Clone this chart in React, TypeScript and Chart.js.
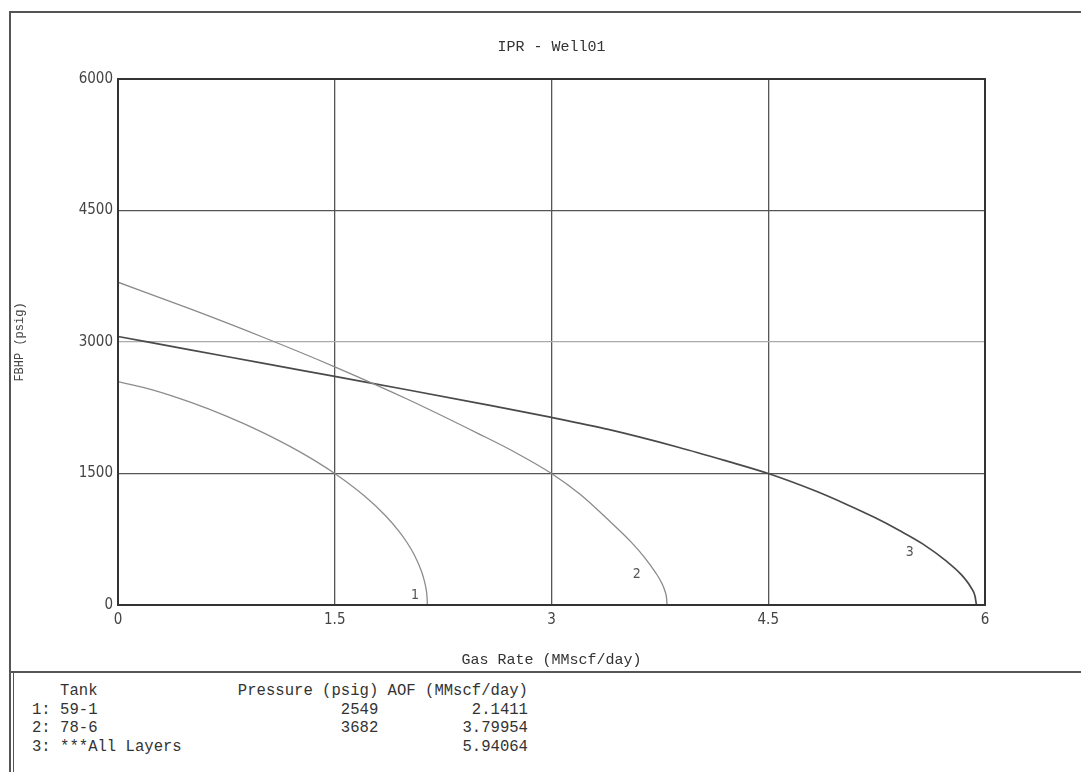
import React, { useEffect, useRef } from "react";
import { Chart, registerables } from "chart.js";

Chart.register(...registerables);

// ---- data ----
const chartTitle = "IPR - Well01";
const xAxisTitle = "Gas Rate (MMscf/day)";
const yAxisTitle = "FBHP (psig)";

const xTicks = [0, 1.5, 3, 4.5, 6];
const yTicks = [0, 1500, 3000, 4500, 6000];

// Curve 1: tank 59-1
const rate1 = [0, 0.25, 0.5, 0.75, 1.0, 1.25, 1.5, 1.7, 1.85, 1.95, 2.0, 2.05, 2.1, 2.12, 2.13, 2.138, 2.1411];
const pres1 = [2549, 2449, 2314, 2155, 1970, 1755, 1500, 1251, 1021, 829, 713, 573, 386, 276, 201, 106, 0];

// Curve 2: tank 78-6
const rate2 = [0, 0.5, 1.0, 1.5, 2.0, 2.5, 2.75, 3.0, 3.2, 3.4, 3.55, 3.65, 3.72, 3.76, 3.785, 3.797, 3.79954];
const pres2 = [3682, 3377, 3057, 2717, 2350, 1950, 1740, 1500, 1260, 960, 720, 530, 370, 260, 160, 70, 0];

// Curve 3: all layers
const rate3 = [0, 0.5, 1.0, 1.5, 2.0, 2.5, 3.0, 3.4, 3.877, 4.197, 4.5, 4.828, 5.039, 5.234, 5.408, 5.566, 5.733, 5.834, 5.903, 5.931, 5.94064];
const pres3 = [3063, 2911, 2759, 2607, 2455, 2300, 2140, 2000, 1800, 1650, 1500, 1300, 1150, 1000, 850, 700, 500, 350, 200, 100, 0];

const curveColors = ["#8c8c8c", "#8a8a8a", "#4a4a4a"];
const curveWidths = [1.3, 1.3, 1.7];

// curve number labels (data coordinates)
const curveLabels = ["1", "2", "3"];
const labelRate = [2.055, 3.59, 5.48];
const labelPres = [114, 353, 603];

// table
const tableHeader = ["Tank", "Pressure (psig)", "AOF (MMscf/day)"];
const tankNames = ["59-1", "78-6", "***All Layers"];
const tankPressure = ["2549", "3682", ""];
const tankAOF = ["2.1411", "3.79954", "5.94064"];

const monoFont = "'Liberation Mono', 'DejaVu Sans Mono', monospace";
const narrowFont = "'DejaVu Sans Condensed', 'Liberation Sans Narrow', 'DejaVu Sans', sans-serif";

function padRight(s: string, n: number) {
  return s + " ".repeat(Math.max(0, n - s.length));
}
function padLeft(s: string, n: number) {
  return " ".repeat(Math.max(0, n - s.length)) + s;
}

function buildTable(): string {
  const lines: string[] = [];
  lines.push(padRight("   " + tableHeader[0], 22) + tableHeader[1] + " " + tableHeader[2]);
  tankNames.forEach((name, i) => {
    const left = padRight(`${i + 1}: ${name}`, 22);
    const p = padLeft(tankPressure[i], 15);
    const a = padLeft(tankAOF[i], 15);
    lines.push(left + p + " " + a);
  });
  return lines.join("\n");
}

const zip = (xs: number[], ys: number[]) => xs.map((x, i) => ({ x, y: ys[i] }));

export default function App() {
  const ref = useRef<HTMLCanvasElement>(null);

  useEffect(() => {
    const frame = {
      id: "frame",
      afterDatasetsDraw(chart: any) {
        const { ctx, chartArea } = chart;
        ctx.save();
        ctx.strokeStyle = "#333";
        ctx.lineWidth = 2;
        ctx.strokeRect(chartArea.left, chartArea.top, chartArea.right - chartArea.left, chartArea.bottom - chartArea.top);
        const xs = chart.scales.x;
        const ys = chart.scales.y;
        ctx.fillStyle = "#555";
        ctx.font = `14px ${narrowFont}`;
        ctx.textAlign = "center";
        ctx.textBaseline = "middle";
        curveLabels.forEach((t, i) => {
          ctx.fillText(t, xs.getPixelForValue(labelRate[i]), ys.getPixelForValue(labelPres[i]));
        });
        ctx.restore();
      },
    };

    const chart = new Chart(ref.current!, {
      type: "scatter",
      data: {
        datasets: [
          { data: zip(rate1, pres1) },
          { data: zip(rate2, pres2) },
          { data: zip(rate3, pres3) },
        ].map((d, i) => ({
          ...d,
          showLine: true,
          borderColor: curveColors[i],
          borderWidth: curveWidths[i],
          pointRadius: 0,
          cubicInterpolationMode: "monotone" as const,
          fill: false,
        })),
      },
      options: {
        animation: false,
        responsive: false,
        layout: { padding: { left: 10, top: 12, right: 96, bottom: 0 } },
        plugins: {
          legend: { display: false },
          tooltip: { enabled: false },
          title: {
            display: true,
            text: chartTitle,
            color: "#333",
            font: { family: monoFont, size: 15, weight: "normal" },
            padding: { top: 26, bottom: 23 },
            fullSize: false,
          },
        },
        scales: {
          x: {
            type: "linear",
            min: 0,
            max: 6,
            afterBuildTicks: (s: any) => {
              s.ticks = xTicks.map((v) => ({ value: v }));
            },
            afterFit: (s: any) => {
              s.height = 67;
            },
            ticks: {
              color: "#444",
              font: { family: narrowFont, size: 15 },
              padding: 6,
              maxRotation: 0,
              callback: (v: any) => String(v),
            },
            grid: { color: "#555", lineWidth: 1.3, drawTicks: false },
            border: { display: false },
            title: {
              display: true,
              text: xAxisTitle,
              color: "#333",
              font: { family: monoFont, size: 15 },
              padding: { top: 0, bottom: 3 },
            },
          },
          y: {
            type: "linear",
            min: 0,
            max: 6000,
            afterBuildTicks: (s: any) => {
              s.ticks = yTicks.map((v) => ({ value: v }));
            },
            afterFit: (s: any) => {
              s.width = 108;
            },
            ticks: {
              color: "#444",
              font: { family: narrowFont, size: 15 },
              padding: 5,
              callback: (v: any) => String(v),
            },
            grid: {
              color: (c: any) => (c.tick && c.tick.value === 3000 ? "#aaa" : "#555"),
              lineWidth: 1.3,
              drawTicks: false,
            },
            border: { display: false },
            title: {
              display: true,
              text: yAxisTitle,
              color: "#444",
              font: { family: monoFont, size: 12 },
              padding: { top: 3, bottom: 0 },
            },
          },
        },
      },
      plugins: [frame],
    });
    return () => chart.destroy();
  }, []);

  const line = (style: React.CSSProperties) => (
    <div style={{ position: "absolute", background: "#555", ...style }} />
  );

  return (
    <div style={{ position: "fixed", left: 0, top: 0, width: 1081, height: 772, background: "#fff", overflow: "hidden" }}>
      <div style={{ position: "absolute", left: 0, top: 0, width: 1081, height: 672 }}>
        <canvas ref={ref} width={1081} height={672} style={{ display: "block" }} />
      </div>
      {line({ left: 10, top: 11, width: 1071, height: 2 })}
      {line({ left: 9, top: 11, width: 2, height: 761 })}
      {line({ left: 9, top: 671, width: 1072, height: 2 })}
      {line({ left: 13, top: 673, width: 1, height: 99 })}
      <pre
        style={{
          position: "absolute",
          left: 32,
          top: 682,
          margin: 0,
          fontFamily: monoFont,
          fontSize: 15.6,
          lineHeight: "18.5px",
          color: "#333",
        }}
      >
        {buildTable()}
      </pre>
    </div>
  );
}
